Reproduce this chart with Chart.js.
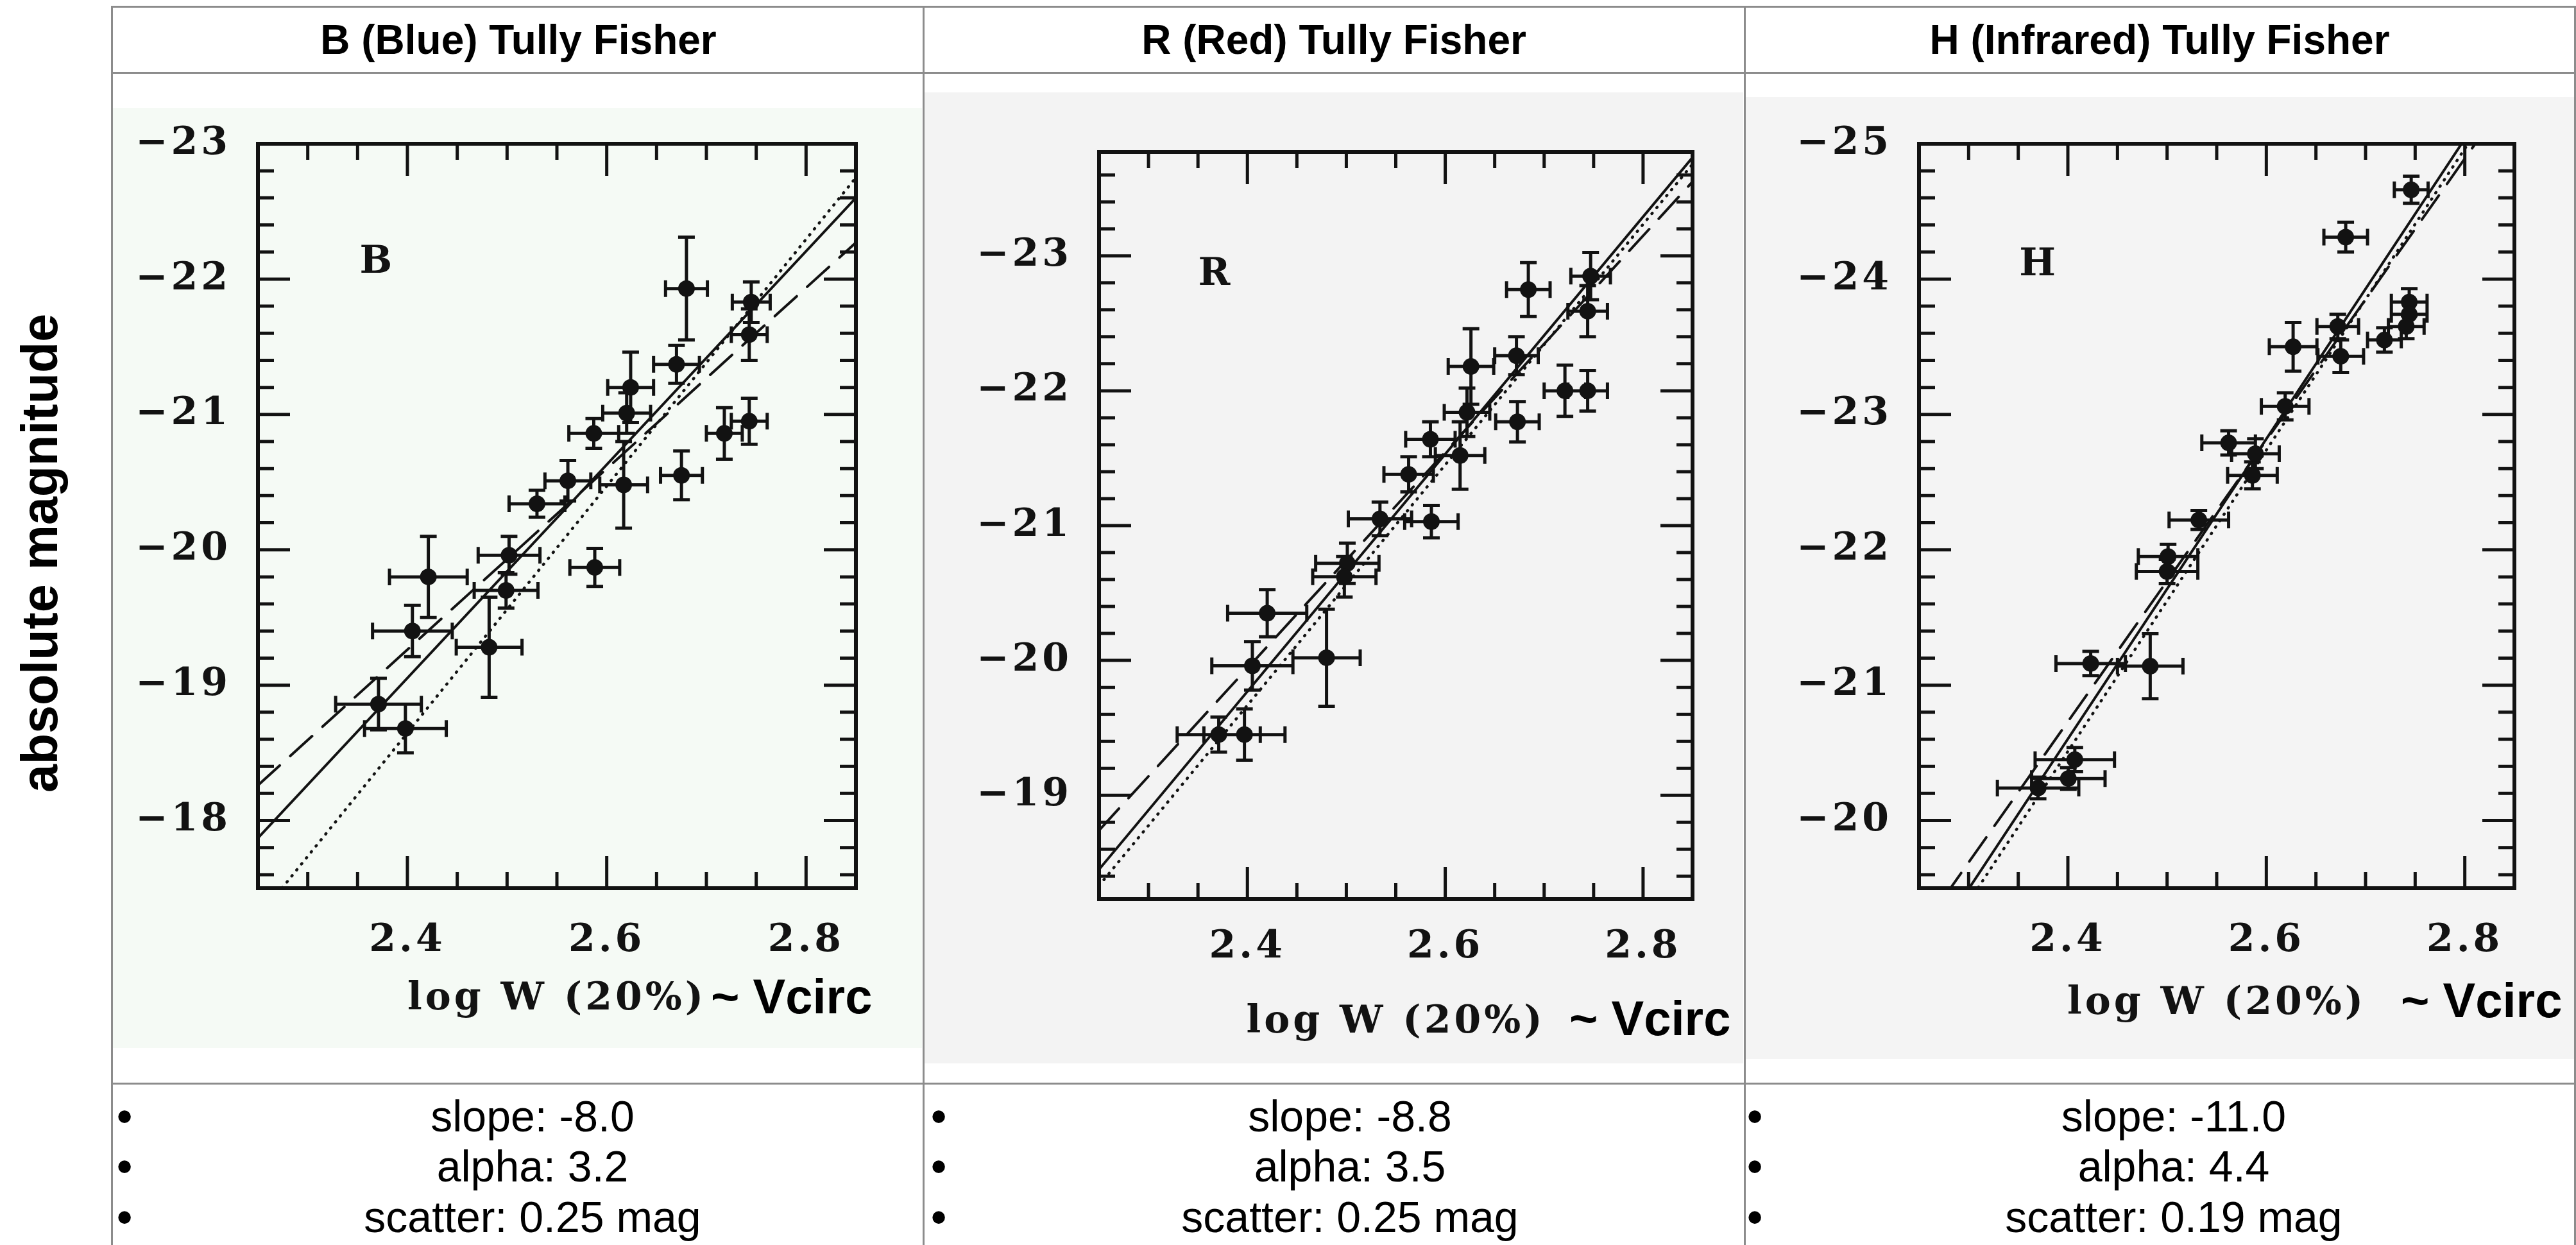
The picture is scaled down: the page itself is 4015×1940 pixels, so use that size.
<!DOCTYPE html>
<html>
<head>
<meta charset="utf-8">
<script src="https://cdn.jsdelivr.net/npm/chart.js@4.4.1/dist/chart.umd.min.js"></script>
<style>
  html, body { margin: 0; padding: 0; background: #fff; }
  body { width: 4015px; height: 1940px; position: relative; overflow: hidden;
         font-family: "Liberation Sans", Arial, sans-serif; color: #000; }
  .hl { position: absolute; height: 3px; background: #8c8c8c; }
  .vl { position: absolute; width: 3px; background: #8c8c8c; }
  .t { position: absolute; white-space: nowrap; transform: translate(-50%, -50%); }
  .head { font-weight: bold; font-size: 64px; }
  .row { font-size: 68px; }
  .dot { font-size: 72px; }
  .vc { position: absolute; white-space: nowrap; transform: translateY(-50%);
        font-weight: bold; font-size: 76px; z-index: 2; }
  .panel { position: absolute; }
  .panel canvas { display: block; }
</style>
</head>
<body>

<!-- table rules -->
<div class="hl" style="left:174px; top:9px; width:3841px"></div>
<div class="hl" style="left:174px; top:112px; width:3841px"></div>
<div class="hl" style="left:174px; top:1687px; width:3841px"></div>
<div class="vl" style="left:173px; top:9px; height:1931px"></div>
<div class="vl" style="left:1438px; top:9px; height:1931px"></div>
<div class="vl" style="left:2718px; top:9px; height:1931px"></div>
<div class="vl" style="left:4012px; top:9px; height:1931px"></div>

<div class="t" style="left:62px; top:862px; font-weight:bold; font-size:79px; transform:translate(-50%,-50%) rotate(-90deg)">absolute magnitude</div>

<div class="t head" style="left:808px; top:62px">B (Blue) Tully Fisher</div>
<div class="t head" style="left:2079px; top:62px">R (Red) Tully Fisher</div>
<div class="t head" style="left:3366px; top:62px">H (Infrared) Tully Fisher</div>

<div class="panel" style="left:176px; top:168px; width:1261px; height:1465px; background:#f5faf5">
  <canvas id="cB" width="1261" height="1465"></canvas>
</div>
<div class="panel" style="left:1441px; top:144px; width:1276px; height:1513px; background:#f3f3f3">
  <canvas id="cR" width="1276" height="1513"></canvas>
</div>
<div class="panel" style="left:2721px; top:151px; width:1291px; height:1499px; background:#f4f4f4">
  <canvas id="cH" width="1291" height="1499"></canvas>
</div>

<div class="vc" style="left:1108px; top:1552px">~ Vcirc</div>
<div class="vc" style="left:2446px; top:1586px">~ Vcirc</div>
<div class="vc" style="left:3742px; top:1558px">~ Vcirc</div>

<div id="notes"></div>

<script>
// shared
const fitX = [2.25, 2.85];
const xTicks = [2.4, 2.6, 2.8];

// B band
const bX = [2.680, 2.745, 2.743, 2.670, 2.624, 2.620, 2.587, 2.718, 2.743, 2.561, 2.530,
            2.617, 2.675, 2.502, 2.499, 2.588, 2.421, 2.405, 2.482, 2.371, 2.398];
const bY = [-21.93, -21.83, -21.59, -21.37, -21.20, -21.01, -20.86, -20.86, -20.95, -20.51, -20.34,
            -20.48, -20.55, -19.96, -19.70, -19.87, -19.80, -19.40, -19.28, -18.86, -18.68];
const bXErr = [0.021, 0.019, 0.018, 0.023, 0.023, 0.024, 0.025, 0.018, 0.018, 0.023, 0.028,
               0.024, 0.021, 0.031, 0.032, 0.025, 0.039, 0.040, 0.033, 0.043, 0.041];
const bYErr = [0.38, 0.15, 0.19, 0.14, 0.26, 0.15, 0.11, 0.19, 0.17, 0.15, 0.10,
               0.32, 0.18, 0.14, 0.13, 0.14, 0.30, 0.19, 0.37, 0.19, 0.18];
const bSolid = [-17.87, -22.60];
const bDashed = [-18.26, -22.27];
const bDotted = [-17.28, -22.75];
const bYTicks = [-23, -22, -21, -20, -19, -18];

// R band
const rX = [2.747, 2.684, 2.744, 2.672, 2.626, 2.721, 2.744, 2.622, 2.673, 2.585, 2.615,
            2.563, 2.534, 2.586, 2.501, 2.498, 2.420, 2.405, 2.480, 2.371, 2.397];
const rY = [-22.85, -22.75, -22.59, -22.26, -22.18, -22.00, -22.00, -21.84, -21.77, -21.64, -21.52,
            -21.38, -21.05, -21.03, -20.72, -20.62, -20.35, -19.96, -20.02, -19.45, -19.45];
const rXErr = [0.020, 0.022, 0.020, 0.022, 0.023, 0.021, 0.020, 0.023, 0.022, 0.025, 0.025,
               0.025, 0.032, 0.027, 0.032, 0.032, 0.040, 0.041, 0.034, 0.042, 0.041];
const rYErr = [0.175, 0.20, 0.19, 0.14, 0.28, 0.19, 0.15, 0.18, 0.15, 0.13, 0.25,
               0.13, 0.125, 0.12, 0.15, 0.15, 0.175, 0.18, 0.36, 0.13, 0.19];
const rSolid = [-18.45, -23.73];
const rDashed = [-18.74, -23.55];
const rDotted = [-18.33, -23.68];
const rYTicks = [-23, -22, -21, -20, -19];

// H band
const hX = [2.746, 2.680, 2.744, 2.744, 2.741, 2.672, 2.719, 2.627, 2.675, 2.619, 2.562,
            2.589, 2.586, 2.532, 2.501, 2.500, 2.423, 2.483, 2.407, 2.4005, 2.370];
const hY = [-24.66, -24.31, -23.83, -23.74, -23.65, -23.65, -23.55, -23.50, -23.43, -23.06, -22.79,
            -22.71, -22.55, -22.22, -21.95, -21.84, -21.16, -21.14, -20.45, -20.31, -20.24];
const hXErr = [0.017, 0.022, 0.018, 0.018, 0.018, 0.021, 0.017, 0.024, 0.023, 0.024, 0.027,
               0.024, 0.025, 0.030, 0.030, 0.031, 0.035, 0.033, 0.040, 0.037, 0.041];
const hYErr = [0.10, 0.11, 0.10, 0.09, 0.09, 0.09, 0.09, 0.18, 0.12, 0.10, 0.09,
               0.11, 0.10, 0.07, 0.09, 0.09, 0.09, 0.24, 0.09, 0.08, 0.08];
const hSolid = [-18.94, -25.59];
const hDashed = [-19.17, -25.41];
const hDotted = [-18.84, -25.52];
const hYTicks = [-25, -24, -23, -22, -21, -20];

// fit summaries shown under each plot
const bNotes = ["slope: -8.0", "alpha: 3.2", "scatter: 0.25 mag"];
const rNotes = ["slope: -8.8", "alpha: 3.5", "scatter: 0.25 mag"];
const hNotes = ["slope: -11.0", "alpha: 4.4", "scatter: 0.19 mag"];

const ink = "#121212";
const serif = "'DejaVu Serif', serif";

function minus(v) {
  return (v < 0 ? "\u2212" : "") + Math.abs(v);
}

function makePanel(id, p) {
  const pts = p.xs.map((v, i) => ({x: v, y: p.ys[i]}));
  const line = (ys, dash, w) => ({
    data: fitX.map((v, i) => ({x: v, y: ys[i]})),
    showLine: true, pointRadius: 0, borderColor: ink, borderWidth: w,
    borderDash: dash, borderCapStyle: "round", order: 1
  });

  const frame = {
    id: "frame",
    beforeDraw(chart) {
      chart.ctx.letterSpacing = "5px";
    },
    beforeDatasetsDraw(chart) {
      const {ctx, scales: {x, y}} = chart;
      const ds = chart.data.datasets[0];
      const c = 13;
      ctx.save();
      ctx.strokeStyle = ink;
      ctx.lineWidth = 5;
      ctx.beginPath();
      ds.data.forEach((q, i) => {
        const px = x.getPixelForValue(q.x), py = y.getPixelForValue(q.y);
        const x0 = x.getPixelForValue(q.x - ds.errX[i]), x1 = x.getPixelForValue(q.x + ds.errX[i]);
        const y0 = y.getPixelForValue(q.y - ds.errY[i]), y1 = y.getPixelForValue(q.y + ds.errY[i]);
        ctx.moveTo(x0, py); ctx.lineTo(x1, py);
        ctx.moveTo(x0, py - c); ctx.lineTo(x0, py + c);
        ctx.moveTo(x1, py - c); ctx.lineTo(x1, py + c);
        ctx.moveTo(px, y0); ctx.lineTo(px, y1);
        ctx.moveTo(px - c, y0); ctx.lineTo(px + c, y0);
        ctx.moveTo(px - c, y1); ctx.lineTo(px + c, y1);
      });
      ctx.stroke();
      ctx.restore();
    },
    afterDraw(chart) {
      const {ctx, chartArea: a, scales: {x, y}} = chart;
      ctx.save();
      ctx.strokeStyle = ink;
      ctx.lineWidth = 5;
      ctx.beginPath();
      // inward ticks on all four sides
      for (let k = Math.ceil(x.min / 0.05 - 1e-6); k * 0.05 <= x.max + 1e-6; k++) {
        const px = x.getPixelForValue(k * 0.05);
        if (px - a.left < 4 || a.right - px < 4) continue;
        const len = k % 4 === 0 ? 50 : 25;
        ctx.moveTo(px, a.bottom); ctx.lineTo(px, a.bottom - len);
        ctx.moveTo(px, a.top); ctx.lineTo(px, a.top + len);
      }
      for (let k = Math.ceil(y.min / 0.2 - 1e-6); k * 0.2 <= y.max + 1e-6; k++) {
        const py = y.getPixelForValue(k * 0.2);
        if (py - a.top < 4 || a.bottom - py < 4) continue;
        const len = k % 5 === 0 ? 50 : 25;
        ctx.moveTo(a.left, py); ctx.lineTo(a.left + len, py);
        ctx.moveTo(a.right, py); ctx.lineTo(a.right - len, py);
      }
      ctx.stroke();
      ctx.lineWidth = 6;
      ctx.strokeRect(a.left, a.top, a.right - a.left, a.bottom - a.top);
      ctx.fillStyle = ink;
      ctx.font = "bold 60px " + serif;
      ctx.textAlign = "center";
      ctx.textBaseline = "middle";
      ctx.fillText(p.letter, x.getPixelForValue(p.letterAt[0]), y.getPixelForValue(p.letterAt[1]));
      ctx.restore();
    }
  };

  const tickFont = {family: serif, size: 60, weight: "bold", lineHeight: 1.2};

  return new Chart(document.getElementById(id), {
    type: "scatter",
    data: {
      datasets: [
        {data: pts, errX: p.ex, errY: p.ey, pointRadius: 13, pointBackgroundColor: ink,
         pointBorderWidth: 0, order: 0},
        line(p.solid, [], 4),
        line(p.dashed, [46, 22], 4),
        line(p.dotted, [1, 11], 4.5)
      ]
    },
    options: {
      responsive: false,
      animation: false,
      devicePixelRatio: 1,
      events: [],
      layout: {padding: {left: 0, top: p.box.t, right: p.w - p.box.r, bottom: 0}},
      plugins: {legend: {display: false}, tooltip: {enabled: false}},
      scales: {
        x: {
          type: "linear", min: 2.25, max: 2.85,
          afterFit: s => { s.height = p.h - p.box.b; s.paddingLeft = 0; s.paddingRight = 0; },
          afterBuildTicks: s => { s.ticks = xTicks.map(v => ({value: v})); },
          grid: {display: false, drawTicks: false}, border: {display: false},
          ticks: {padding: p.tickPad, autoSkip: false, maxRotation: 0, color: ink,
                  font: tickFont, callback: v => v.toFixed(1)},
          title: {display: true, text: "log W (20%)", color: ink, font: tickFont,
                  padding: {top: 0, bottom: p.titlePad}}
        },
        y: {
          type: "linear", min: p.yMin, max: p.yMax, reverse: true,
          afterFit: s => { s.width = p.box.l; s.paddingTop = 0; s.paddingBottom = 0; },
          afterBuildTicks: s => { s.ticks = p.yTicks.map(v => ({value: v})); },
          grid: {display: false, drawTicks: false}, border: {display: false},
          ticks: {padding: 42, autoSkip: false, color: ink, font: tickFont,
                  callback: v => minus(v)}
        }
      }
    },
    plugins: [frame]
  });
}

makePanel("cB", {w: 1261, h: 1465, box: {l: 226, r: 1158, t: 56, b: 1216},
  yMin: -23, yMax: -17.5, xs: bX, ys: bY, ex: bXErr, ey: bYErr,
  solid: bSolid, dashed: bDashed, dotted: bDotted, yTicks: bYTicks,
  letter: "B", letterAt: [2.37, -22.12], tickPad: 46, titlePad: 40});

makePanel("cR", {w: 1276, h: 1513, box: {l: 272, r: 1197, t: 93, b: 1257},
  yMin: -23.77, yMax: -18.23, xs: rX, ys: rY, ex: rXErr, ey: rYErr,
  solid: rSolid, dashed: rDashed, dotted: rDotted, yTicks: rYTicks,
  letter: "R", letterAt: [2.368, -22.86], tickPad: 39, titlePad: 28});

makePanel("cH", {w: 1291, h: 1499, box: {l: 270, r: 1198, t: 73, b: 1233},
  yMin: -25, yMax: -19.5, xs: hX, ys: hY, ex: hXErr, ey: hYErr,
  solid: hSolid, dashed: hDashed, dotted: hDotted, yTicks: hYTicks,
  letter: "H", letterAt: [2.371, -24.1], tickPad: 46, titlePad: 50});

// bullet rows under the plots
const notesEl = document.getElementById("notes");
const rowY = [1739, 1817, 1896];
[[bNotes, 194, 830], [rNotes, 1463, 2104], [hNotes, 2735, 3388]].forEach(([lines, bx, cx]) => {
  lines.forEach((txt, i) => {
    const d = document.createElement("div");
    d.className = "t dot";
    d.style.left = bx + "px"; d.style.top = rowY[i] + "px";
    d.textContent = "\u2022";
    notesEl.appendChild(d);
    const t = document.createElement("div");
    t.className = "t row";
    t.style.left = cx + "px"; t.style.top = rowY[i] + "px";
    t.textContent = txt;
    notesEl.appendChild(t);
  });
});
</script>
</body>
</html>
